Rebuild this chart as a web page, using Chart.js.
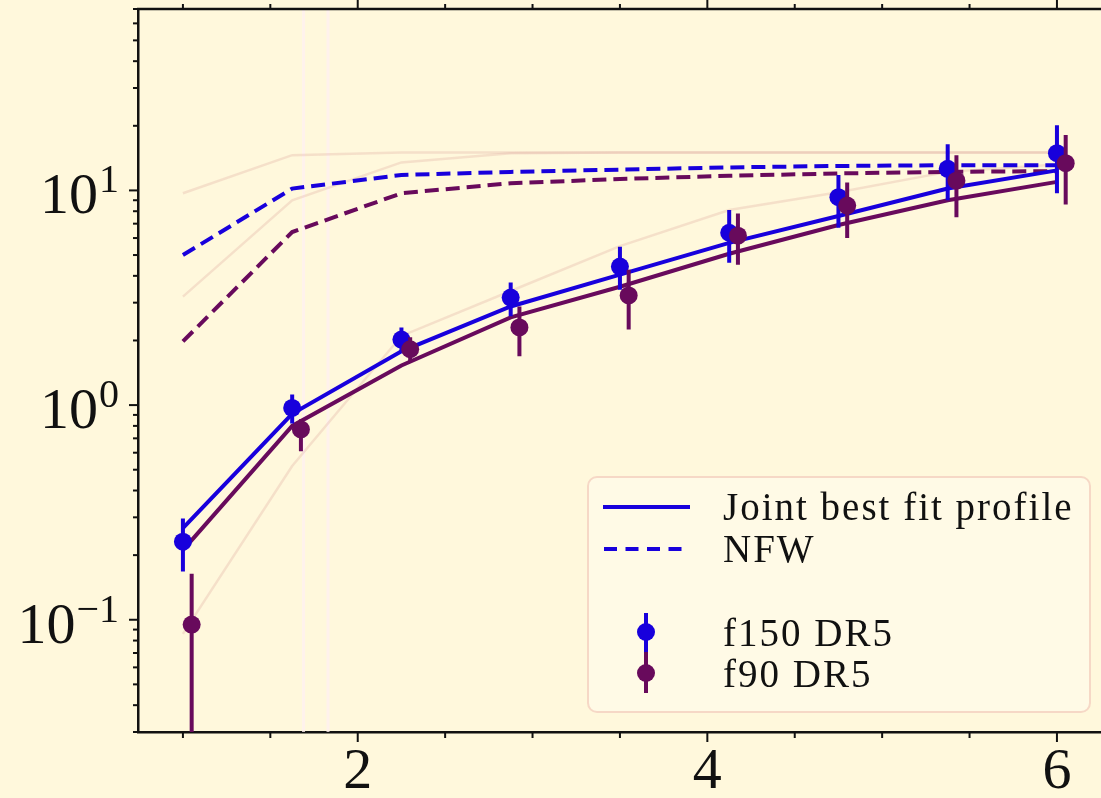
<!DOCTYPE html>
<html><head><meta charset="utf-8">
<script src="https://cdn.jsdelivr.net/npm/chart.js@4"></script>
<style>html,body{margin:0;padding:0;background:#fff8dc;}#wrap{width:1101px;height:798px;}</style>
</head><body><div id="wrap"><canvas id="c" width="1101" height="798"></canvas></div>
<script>
// ---- data ----
const xF150 = [1.0, 1.625, 2.25, 2.875, 3.5, 4.125, 4.75, 5.375, 6.0];
const xF90  = [1.05, 1.675, 2.3, 2.925, 3.55, 4.175, 4.8, 5.425, 6.05];
const f150   = [0.231, 0.97, 2.02, 3.17, 4.42, 6.35, 9.3, 12.6, 14.9];
const f150Hi = [0.296, 1.12, 2.30, 3.72, 5.47, 8.1, 11.8, 16.4, 20.1];
const f150Lo = [0.168, 0.82, 1.78, 2.59, 3.45, 4.6, 6.7, 9.0, 9.7];
const f90    = [0.095, 0.77, 1.82, 2.30, 3.24, 6.15, 8.5, 11.1, 13.4];
const f90Hi  = [0.164, 0.86, 2.07, 2.88, 4.27, 7.8, 10.9, 14.6, 18.1];
const f90Lo  = [0.005, 0.61, 1.60, 1.69, 2.25, 4.5, 6.0, 7.5, 8.6];
const fitF150 = [0.267, 0.91, 1.78, 2.88, 4.05, 5.7, 7.6, 10.2, 12.4];
const fitF90  = [0.211, 0.80, 1.53, 2.56, 3.56, 5.07, 6.9, 9.0, 10.96];
const nfwF150 = [5.0, 10.2, 11.8, 12.2, 12.5, 12.8, 13.0, 13.1, 13.1];
const nfwF90  = [1.98, 6.4, 9.7, 10.8, 11.3, 11.7, 12.0, 12.2, 12.3];
const faintA = [9.7, 14.6, 15.0, 15.0, 15.0, 15.0, 15.0, 15.0, 15.0];
const faintB = [3.2, 9.0, 13.5, 14.9, 15.0, 15.0, 15.0, 15.0, 15.0];
const faintC = [0.086, 0.52, 2.1, 3.4, 5.5, 8.1, 9.8, 12.2, 13.2];
const faintVX = [1.69, 1.83];
const xTickValues = [2, 4, 6];
const xTickLabels = ['2', '4', '6'];
const yTickValues = [0.1, 1, 10];
const yTickExponents = ['\u22121', '0', '1'];
const legendLabels = ['Joint best fit profile', 'NFW', 'f150 DR5', 'f90 DR5'];

// ---- styles ----
const BLUE = '#1800dc';
const PURPLE = '#680a5c';
const FAINT = 'rgba(222,170,160,0.3)';
const FONT = '"Liberation Serif", "DejaVu Serif", serif';

const pts = (xs, ys) => xs.map((x, i) => ({x, y: ys[i]}));
const bars = (xs, lo, hi) => {
  const out = [];
  xs.forEach((x, i) => { out.push({x, y: lo[i]}, {x, y: hi[i]}, {x, y: null}); });
  return out;
};
const vlines = (xs) => {
  const out = [];
  xs.forEach(x => { out.push({x, y: 0.001}, {x, y: 1000}, {x, y: null}); });
  return out;
};

const datasets = [
  {data: pts(xF90, f90), showLine: false, pointRadius: 9, pointBackgroundColor: PURPLE, pointBorderWidth: 0, order: 1},
  {data: bars(xF90, f90Lo, f90Hi), borderColor: PURPLE, borderWidth: 4, pointRadius: 0, spanGaps: false, order: 2, clip: 0},
  {data: pts(xF150, f150), showLine: false, pointRadius: 9, pointBackgroundColor: BLUE, pointBorderWidth: 0, order: 3},
  {data: bars(xF150, f150Lo, f150Hi), borderColor: BLUE, borderWidth: 4, pointRadius: 0, spanGaps: false, order: 4, clip: 0},
  {data: pts(xF150, fitF90), borderColor: PURPLE, borderWidth: 4, pointRadius: 0, order: 5},
  {data: pts(xF150, fitF150), borderColor: BLUE, borderWidth: 4, pointRadius: 0, order: 6},
  {data: pts(xF150, nfwF90), borderColor: PURPLE, borderWidth: 4, borderDash: [14, 7], pointRadius: 0, order: 7},
  {data: pts(xF150, nfwF150), borderColor: BLUE, borderWidth: 4, borderDash: [14, 7], pointRadius: 0, order: 8},
  {data: pts(xF150, faintC), borderColor: FAINT, borderWidth: 2.5, pointRadius: 0, order: 9},
  {data: pts(xF150, faintB), borderColor: FAINT, borderWidth: 2.5, pointRadius: 0, order: 10},
  {data: pts(xF150, faintA), borderColor: FAINT, borderWidth: 2.5, pointRadius: 0, order: 11},
  {data: vlines(faintVX), borderColor: 'rgba(255,240,240,0.8)', borderWidth: 3, pointRadius: 0, spanGaps: false, order: 12}
];

const bgPlugin = {
  id: 'bg',
  beforeDraw(chart) {
    const c = chart.ctx;
    c.save(); c.fillStyle = '#fff8dc'; c.fillRect(0, 0, chart.width, chart.height); c.restore();
  }
};

const framePlugin = {
  id: 'frame',
  afterDraw(chart) {
    const c = chart.ctx, a = chart.chartArea, xs = chart.scales.x, ys = chart.scales.y;
    c.save();
    c.strokeStyle = '#111'; c.lineWidth = 2.5;
    // top spine
    c.beginPath(); c.moveTo(a.left - 1, a.top); c.lineTo(a.right, a.top); c.stroke();
    // x ticks (bottom outward, top outward)
    c.lineWidth = 2;
    for (let v = Math.ceil(xs.min * 2) / 2; v <= xs.max + 1e-9; v += 0.5) {
      const px = xs.getPixelForValue(v);
      const major = xTickValues.includes(v);
      const lb = major ? 10 : 6, lt = major ? 9 : 5;
      c.beginPath(); c.moveTo(px, a.bottom); c.lineTo(px, a.bottom + lb); c.stroke();
      c.beginPath(); c.moveTo(px, a.top); c.lineTo(px, a.top - lt); c.stroke();
    }
    // y ticks (left outward)
    for (let k = -3; k <= 2; k++) {
      for (let m = 1; m <= 9; m++) {
        const v = m * Math.pow(10, k);
        if (v < ys.min || v > ys.max) continue;
        const py = ys.getPixelForValue(v);
        const len = m === 1 ? 9 : 5;
        c.beginPath(); c.moveTo(a.left, py); c.lineTo(a.left - len, py); c.stroke();
      }
    }
    // y tick labels 10^k
    c.fillStyle = '#111'; c.textAlign = 'right'; c.textBaseline = 'alphabetic';
    yTickValues.forEach((v, i) => {
      const py = ys.getPixelForValue(v);
      c.font = '40px ' + FONT;
      c.fillText(yTickExponents[i], 119, py + 2);
      const ew = c.measureText(yTickExponents[i]).width;
      c.font = '58px ' + FONT;
      c.fillText('10', 119 - ew - 1, py + 23);
    });
    // legend
    const lx = 588, ly = 477, lw = 502, lh = 235;
    c.beginPath(); c.roundRect(lx, ly, lw, lh, 9);
    c.fillStyle = 'rgba(255,250,232,0.85)'; c.fill();
    c.strokeStyle = 'rgba(246,214,196,0.95)'; c.lineWidth = 2; c.stroke();
    c.lineWidth = 4; c.strokeStyle = BLUE;
    c.beginPath(); c.moveTo(603, 507); c.lineTo(690, 507); c.stroke();
    c.setLineDash([13, 8.5]);
    c.beginPath(); c.moveTo(604, 549); c.lineTo(690, 549); c.stroke();
    c.setLineDash([]);
    // marker entries
    c.strokeStyle = PURPLE; c.beginPath(); c.moveTo(646, 652); c.lineTo(646, 693); c.stroke();
    c.strokeStyle = BLUE; c.beginPath(); c.moveTo(646, 613); c.lineTo(646, 652); c.stroke();
    c.fillStyle = BLUE; c.beginPath(); c.arc(646, 632, 9, 0, Math.PI * 2); c.fill();
    c.fillStyle = PURPLE; c.beginPath(); c.arc(646, 673, 9, 0, Math.PI * 2); c.fill();
    c.fillStyle = '#111'; c.textAlign = 'left'; c.textBaseline = 'alphabetic';
    c.font = '39px ' + FONT;
    try { c.letterSpacing = '2px'; } catch (e) {}
    const baselines = [520, 562, 646, 687];
    legendLabels.forEach((t, i) => c.fillText(t, 723, baselines[i]));
    c.restore();
  }
};

new Chart(document.getElementById('c').getContext('2d'), {
  type: 'line',
  data: {datasets},
  options: {
    responsive: false, animation: false,
    layout: {autoPadding: false, padding: {top: 9, right: 0, left: 0, bottom: 0}},
    plugins: {legend: {display: false}, tooltip: {enabled: false}},
    elements: {line: {tension: 0}},
    scales: {
      x: {
        type: 'linear', min: 0.743, max: 6.252,
        afterBuildTicks: s => { s.ticks = xTickValues.map(v => ({value: v})); },
        afterFit: s => { s.height = 66; },
        ticks: {
          autoSkip: false, maxRotation: 0, padding: 6, color: '#111',
          font: {family: FONT, size: 58},
          callback: (v) => { const i = xTickValues.indexOf(v); return i >= 0 ? xTickLabels[i] : ''; }
        },
        grid: {display: true, drawOnChartArea: false, drawTicks: false},
        border: {display: true, color: '#111', width: 2.5}
      },
      y: {
        type: 'logarithmic', min: 0.03, max: 70,
        afterBuildTicks: s => { s.ticks = yTickValues.map(v => ({value: v})); },
        afterFit: s => { s.width = 138; },
        ticks: {display: false},
        grid: {display: true, drawOnChartArea: false, drawTicks: false},
        border: {display: true, color: '#111', width: 2.5}
      }
    }
  },
  plugins: [bgPlugin, framePlugin]
});
</script>
</body></html>
